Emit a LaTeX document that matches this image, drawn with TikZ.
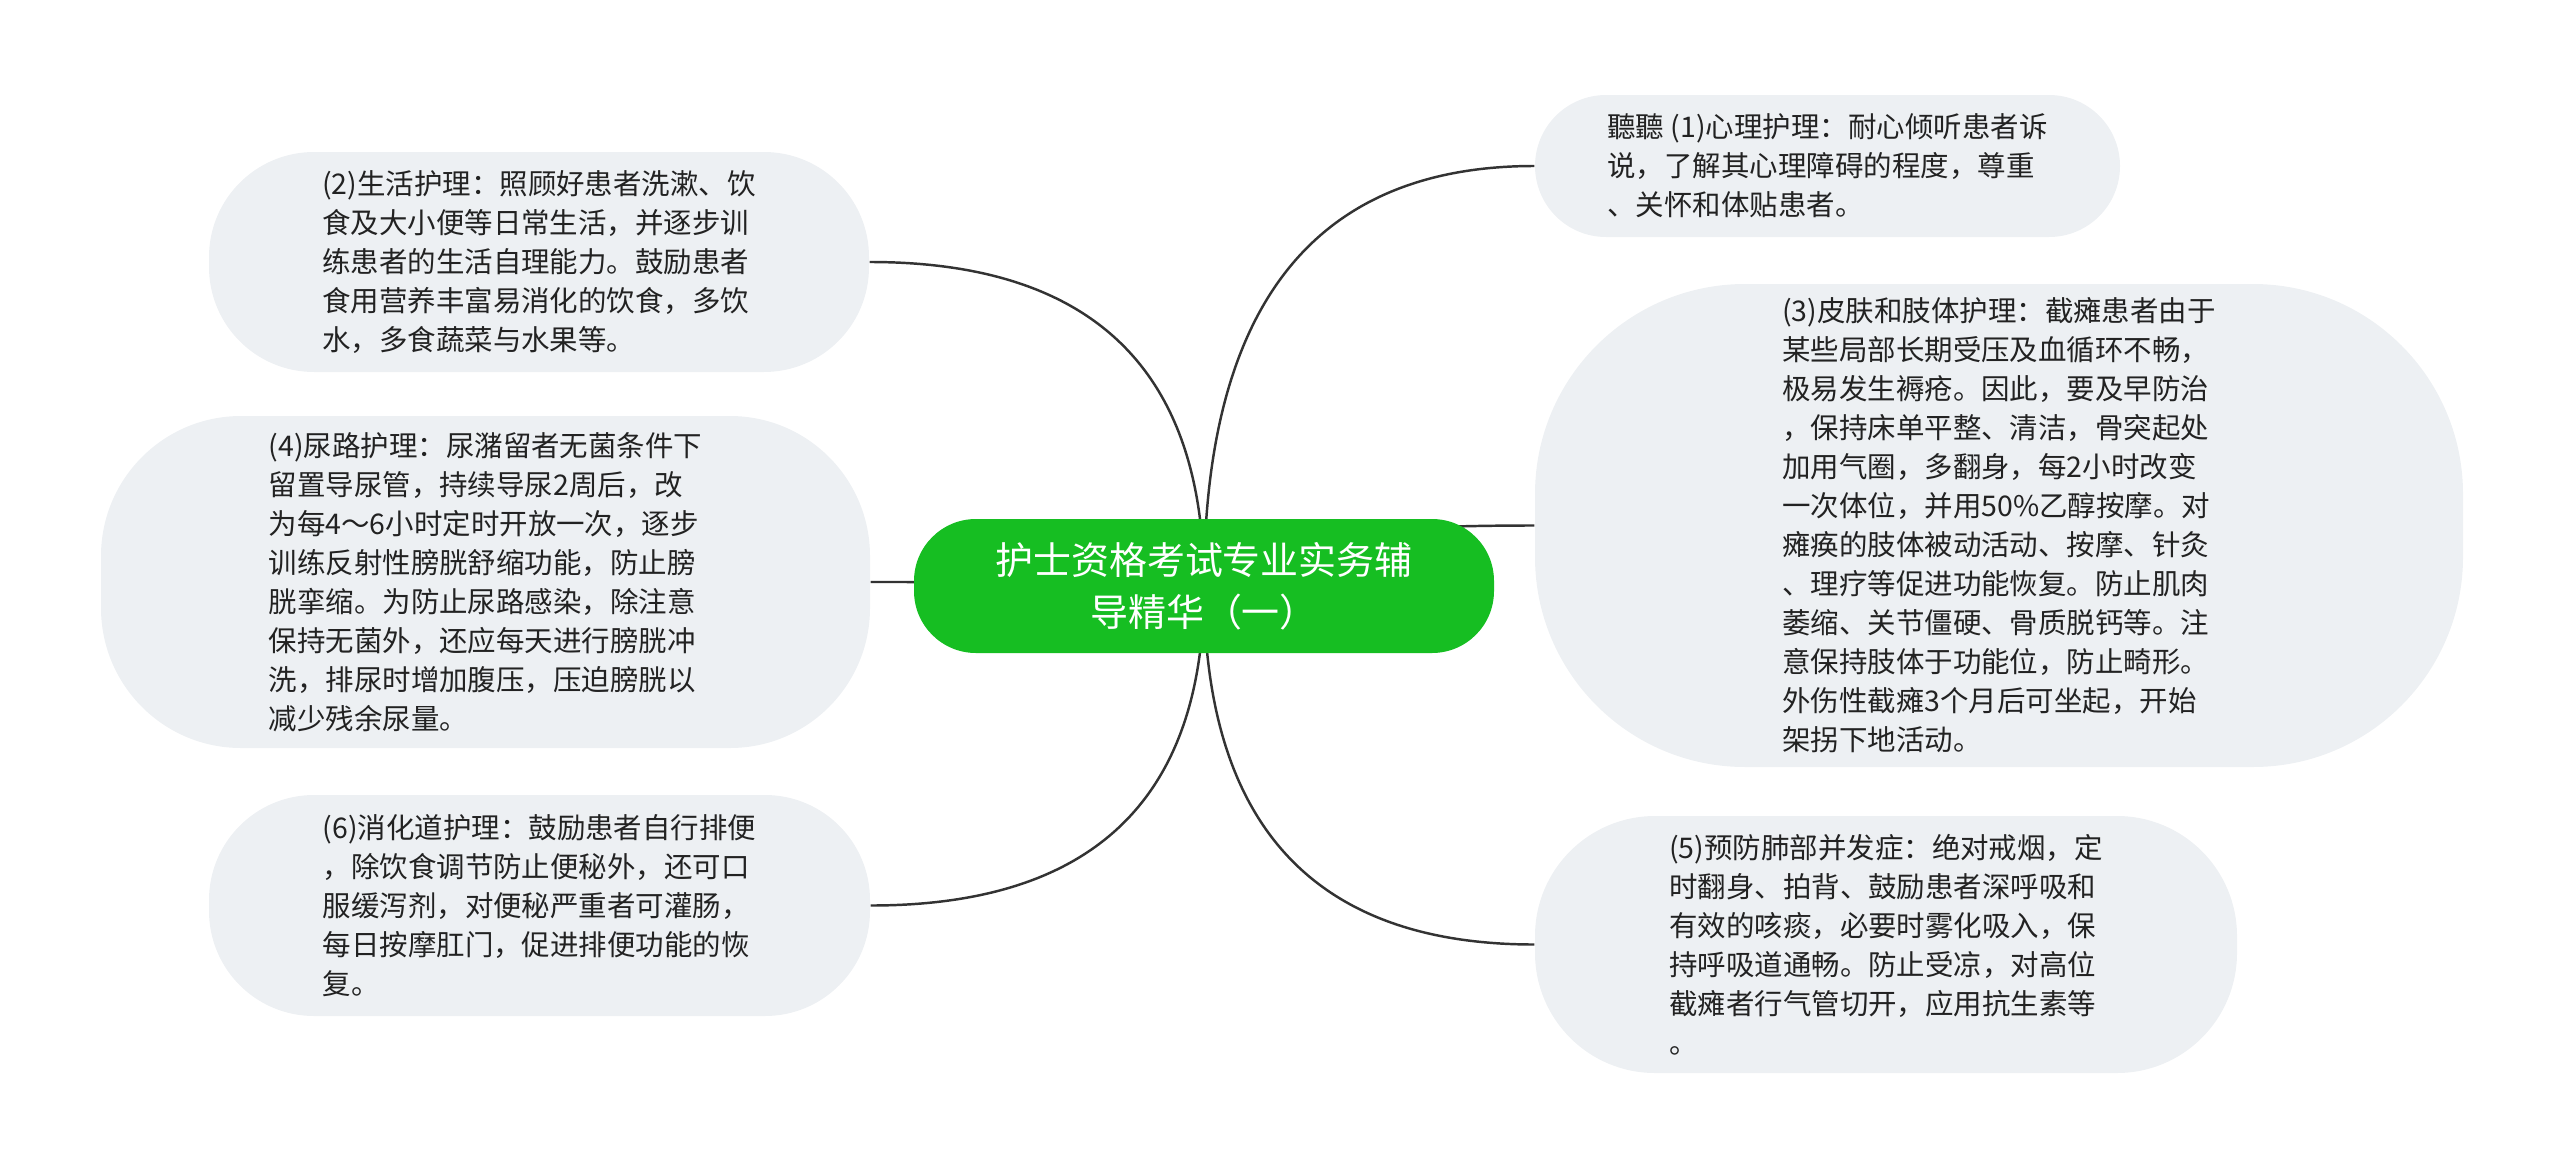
\documentclass[tikz,border=0pt]{standalone}
\usepackage{fontspec}
\setmainfont{Noto Sans CJK SC}
\usetikzlibrary{backgrounds,calc}
\definecolor{topicgreen}{RGB}{22,190,34}
\definecolor{leafgray}{RGB}{237,240,243}
\definecolor{branchgray}{RGB}{51,51,51}
\definecolor{leaftext}{RGB}{34,34,34}
\tikzset{
 maintopic/.style={fill=topicgreen, text=white, align=center, inner sep=0pt, rounded corners=0.62cm,
   minimum width=5.8cm, minimum height=1.34cm, font=\fontsize{10.8pt}{14.8pt}\selectfont},
 subtopic/.style={fill=leafgray, text=leaftext, align=left, inner sep=0pt, font=\fontsize{8.1pt}{11.1pt}\selectfont},
 branch/.style={draw=branchgray, line width=0.7pt}
}
\begin{document}
\begin{tikzpicture}
\useasboundingbox (0,0) rectangle (25.6,-11.69);
\node[maintopic] (hub) at (12.04,-5.86) {护士资格考试专业实务辅\\导精华（一）};
\node[subtopic, minimum width=5.85cm, minimum height=1.42cm, rounded corners=0.71cm] (xinli) at (18.275,-1.66)
 {聽聽 (1)心理护理：耐心倾听患者诉\\说，了解其心理障碍的程度，尊重\\、关怀和体贴患者。};
\node[subtopic, minimum width=6.6cm, minimum height=2.2cm, rounded corners=1.05cm] (shenghuo) at (5.39,-2.62)
 {(2)生活护理：照顾好患者洗漱、饮\\食及大小便等日常生活，并逐步训\\练患者的生活自理能力。鼓励患者\\食用营养丰富易消化的饮食，多饮\\水，多食蔬菜与水果等。};
\node[subtopic, minimum width=9.28cm, minimum height=4.83cm, rounded corners=2.1cm] (pifu) at (19.99,-5.255)
 {(3)皮肤和肢体护理：截瘫患者由于\\某些局部长期受压及血循环不畅，\\极易发生褥疮。因此，要及早防治\\，保持床单平整、清洁，骨突起处\\加用气圈，多翻身，每2小时改变\\一次体位，并用50\%乙醇按摩。对\\瘫痪的肢体被动活动、按摩、针灸\\、理疗等促进功能恢复。防止肌肉\\萎缩、关节僵硬、骨质脱钙等。注\\意保持肢体于功能位，防止畸形。\\外伤性截瘫3个月后可坐起，开始\\架拐下地活动。};
\node[subtopic, minimum width=7.69cm, minimum height=3.32cm, rounded corners=1.4cm] (niaolu) at (4.855,-5.82)
 {(4)尿路护理：尿潴留者无菌条件下\\留置导尿管，持续导尿2周后，改\\为每4～6小时定时开放一次，逐步\\训练反射性膀胱舒缩功能，防止膀\\胱挛缩。为防止尿路感染，除注意\\保持无菌外，还应每天进行膀胱冲\\洗，排尿时增加腹压，压迫膀胱以\\减少残余尿量。};
\node[subtopic, minimum width=7.02cm, minimum height=2.57cm, rounded corners=1.2cm] (feibu) at (18.86,-9.445)
 {(5)预防肺部并发症：绝对戒烟，定\\时翻身、拍背、鼓励患者深呼吸和\\有效的咳痰，必要时雾化吸入，保\\持呼吸道通畅。防止受凉，对高位\\截瘫者行气管切开，应用抗生素等\\。};
\node[subtopic, minimum width=6.61cm, minimum height=2.21cm, rounded corners=1.05cm] (xiaohua) at (5.395,-9.055)
 {(6)消化道护理：鼓励患者自行排便\\，除饮食调节防止便秘外，还可口\\服缓泻剂，对便秘严重者可灌肠，\\每日按摩肛门，促进排便功能的恢\\复。};
\begin{scope}[on background layer]
\foreach \leaf/\side in {xinli/west,pifu/west,feibu/west,shenghuo/east,niaolu/east,xiaohua/east}{
 \coordinate (bend) at (hub.center |- \leaf.\side);
 \draw[branch] (hub.center) .. controls ($(hub.center)!0.667!(bend)$) and ($(\leaf.\side)!0.667!(bend)$) .. (\leaf.\side);
}
\end{scope}
\end{tikzpicture}
\end{document}
